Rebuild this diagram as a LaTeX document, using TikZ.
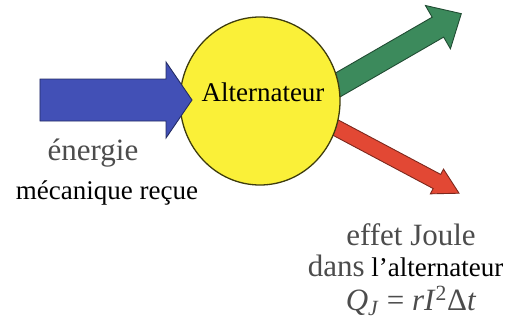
\documentclass[tikz,border=0pt]{standalone}
\usepackage{fontspec}
\setmainfont{Liberation Serif}
\newfontfamily\timesrm{Liberation Serif}
\usetikzlibrary{shapes.geometric}
\definecolor{inblue}{RGB}{66,80,182}
\definecolor{outgreen}{RGB}{60,138,92}
\definecolor{heatred}{RGB}{226,72,52}
\definecolor{altyellow}{RGB}{250,240,56}
% fleche epaisse : couleur, angle, decalage, queue, base, pointe, demi-corps, demi-tete
\newcommand{\fatarrow}[8]{%
  \begin{scope}[shift={(hub)}, rotate=#2, yshift=#3pt]
    \draw[arrowbody=#1] (#4,-#7) -- (#5,-#7) -- (#5,-#8) -- (#6,0)
      -- (#5,#8) -- (#5,#7) -- (#4,#7) -- cycle;
  \end{scope}}

\begin{document}
\begin{tikzpicture}[x=1pt, y=1pt,
  gen/.style={ellipse, draw=black!75!altyellow, fill=altyellow, line width=1.3pt,
              minimum width=160pt, minimum height=168pt, inner sep=0pt},
  arrowbody/.style={fill=#1, draw=#1!55!black, line width=0.9pt},
  lbl/.style={font=\fontsize{27}{32}\selectfont\timesrm, inner sep=0pt, anchor=base},
  glbl/.style={font=\fontsize{31}{36}\selectfont\timesrm, inner sep=0pt, anchor=base,
               text=black!70},
]
\useasboundingbox (-260,-223) rectangle (261,101);
\coordinate (hub) at (0,0);

% sorties (derriere l'alternateur)
\fatarrow{outgreen}{30}{-25}{40}{191}{218}{11.5}{25}
\fatarrow{heatred}{-28}{12}{40}{194}{219}{8}{14}

% alternateur
\node[gen] (alt) at (hub) {};
\node[lbl] (altname) at (3,0) {Alternateur};

% entree
\fatarrow{inblue}{0}{1}{-220}{-94}{-68}{21}{38}

% textes
\node[glbl] (energie) at (-167,-59) {énergie};
\node[lbl] (meca) at (-153,-98) {mécanique reçue};
\node[glbl] (joule) at (151,-144) {effet Joule};
\node[lbl] (dans) at (145.5,-175) {{\color{black!70}\fontsize{31}{36}\selectfont dans} l’alternateur};
\node[glbl] (qj) at (151,-209)
  {\textit{Q}\textsubscript{\textit{J}} = \textit{rI}\textsuperscript{2}Δ\textit{t}};
\end{tikzpicture}
\end{document}
